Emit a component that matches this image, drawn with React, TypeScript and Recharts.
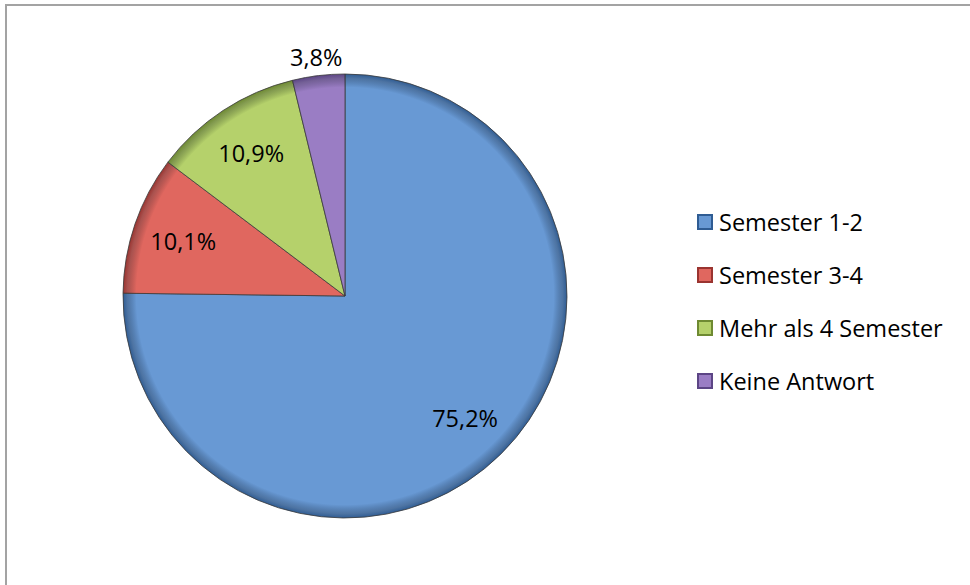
import React from "react";
import { PieChart, Pie, Cell, Legend } from "recharts";

const categories = ["Semester 1-2", "Semester 3-4", "Mehr als 4 Semester", "Keine Antwort"];
const values = [75.2, 10.1, 10.9, 3.8];
const labels = ["75,2%", "10,1%", "10,9%", "3,8%"];
const colors = ["#6899d4", "#e0675f", "#b5d16b", "#9a7dc4"];
const darkColors = ["#2f5c93", "#9a3430", "#6e8a32", "#5c4585"];

const data = categories.map((name, i) => ({ name, value: values[i], label: labels[i] }));

const FONT = "'Open Sans', sans-serif";
const CX = 345;
const CY = 296;
const R = 222;

const RAD = Math.PI / 180;

const renderLabel = (props: any) => {
  const { cx, cy, midAngle, outerRadius, index } = props;
  const r = index === 3 ? outerRadius + 19 : outerRadius * 0.77;
  const x = cx + r * Math.cos(-midAngle * RAD);
  const y = cy + r * Math.sin(-midAngle * RAD);
  return (
    <text
      x={x}
      y={y}
      textAnchor="middle"
      dominantBaseline="central"
      fontFamily={FONT}
      fontSize={23.5}
      fill="#000"
    >
      {labels[index]}
    </text>
  );
};

const LegendContent = () => (
  <div style={{ fontFamily: FONT, fontSize: 23.5, color: "#000" }}>
    {categories.map((c, i) => (
      <div key={c} style={{ height: 53, display: "flex", alignItems: "center", whiteSpace: "nowrap" }}>
        <svg width={16} height={16} style={{ marginRight: 6 }}>
          <rect x={0} y={0} width={16} height={16} fill={darkColors[i]} />
          <rect x={2} y={2} width={12} height={12} fill={colors[i]} />
        </svg>
        <span>{c}</span>
      </div>
    ))}
  </div>
);

export default function App() {
  return (
    <div style={{ position: "absolute", left: 0, top: 0, width: 970, height: 585, background: "#fff" }}>
      <div
        style={{
          position: "absolute",
          left: 5,
          top: 4,
          width: 965,
          height: 581,
          borderTop: "2px solid #a3a3a3",
          borderLeft: "2px solid #a3a3a3",
          boxSizing: "border-box",
        }}
      />
      <PieChart
        width={970}
        height={585}
        margin={{ top: 0, right: 0, bottom: 0, left: 0 }}
        style={{ position: "absolute", left: 0, top: 0 }}
      >
        <defs>
          {colors.map((c, i) => (
            <radialGradient key={i} id={`g${i}`} gradientUnits="userSpaceOnUse" cx={CX} cy={CY} r={R}>
              <stop offset="0" stopColor={c} />
              <stop offset="0.94" stopColor={c} />
              <stop offset="0.98" stopColor={darkColors[i]} stopOpacity={0.85} />
              <stop offset="1" stopColor={darkColors[i]} />
            </radialGradient>
          ))}
        </defs>
        <Pie
          data={data}
          dataKey="value"
          nameKey="name"
          cx={CX}
          cy={CY}
          outerRadius={R}
          startAngle={90}
          endAngle={-270}
          label={renderLabel}
          labelLine={false}
          isAnimationActive={false}
          stroke="#3a3a3a"
          strokeWidth={0.8}
        >
          {data.map((d, i) => (
            <Cell key={d.name} fill={`url(#g${i})`} />
          ))}
        </Pie>
        <Legend
          layout="vertical"
          content={<LegendContent />}
          wrapperStyle={{ position: "absolute", left: 697, top: 195, width: 270 }}
        />
      </PieChart>
    </div>
  );
}
